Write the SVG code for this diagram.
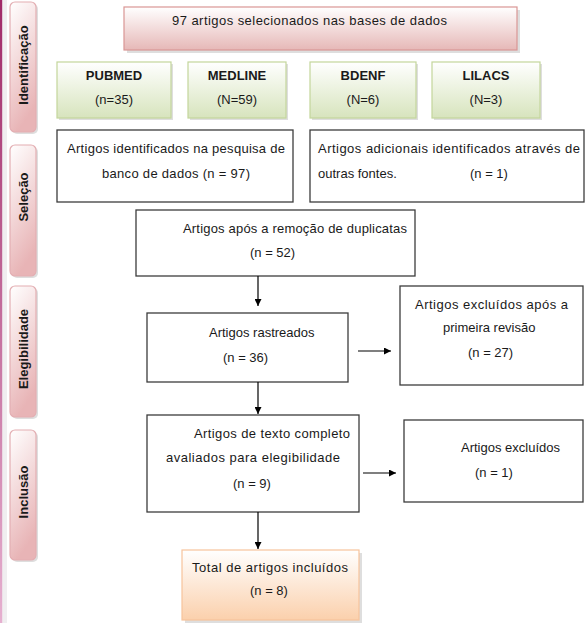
<svg xmlns="http://www.w3.org/2000/svg" width="585" height="623" viewBox="0 0 585 623">
<defs>
<linearGradient id="gRed" x1="0" y1="0" x2="0" y2="1"><stop offset="0" stop-color="#ffffff"/><stop offset="1" stop-color="#e6b8b7"/></linearGradient>
<linearGradient id="gGreen" x1="0" y1="0" x2="0" y2="1"><stop offset="0" stop-color="#ffffff"/><stop offset="1" stop-color="#d7e4bd"/></linearGradient>
<linearGradient id="gOrange" x1="0" y1="0" x2="0" y2="1"><stop offset="0" stop-color="#ffffff"/><stop offset="1" stop-color="#fbd0ac"/></linearGradient>
<linearGradient id="gSide" x1="0" y1="0" x2="0.3" y2="1"><stop offset="0" stop-color="#ffffff"/><stop offset="1" stop-color="#e8b4b6"/></linearGradient>
<linearGradient id="gEdge" x1="0" y1="0" x2="0" y2="1"><stop offset="0" stop-color="#a02a68"/><stop offset="1" stop-color="#e6b0d0"/></linearGradient>
<marker id="ah" viewBox="0 0 10 10" refX="10" refY="5" markerWidth="7" markerHeight="7" markerUnits="userSpaceOnUse" orient="auto"><path d="M0,0 L10,5 L0,10 z" fill="#000"/></marker>
</defs>
<style>
text{font-family:"Liberation Sans",Arial,sans-serif;font-size:13px;fill:#1a1a1a}
.b{font-weight:bold}
.c{text-anchor:middle}
.box{fill:#fff;stroke:#3c3c3c;stroke-width:1.3}
.sh{fill:#c8c8c8;opacity:0.6}
.side{fill:url(#gSide);stroke:#e3aeb2;stroke-width:1.2}
.grn{fill:url(#gGreen);stroke:#c3d69b;stroke-width:1.2}
.red{fill:url(#gRed);stroke:#d99694;stroke-width:1.2}
.org{fill:url(#gOrange);stroke:#f7c49c;stroke-width:1.2}
.ln{stroke:#000;stroke-width:1.2;fill:none;marker-end:url(#ah)}
</style>
<rect x="0" y="0" width="585" height="623" fill="#ffffff"/>
<rect x="2" y="0" width="5" height="623" fill="#f0eef0"/>
<rect x="0" y="0" width="2.2" height="623" fill="url(#gEdge)"/>

<g id="lbl-identificacao">
<rect x="12" y="4" width="26" height="130" rx="5" class="sh"/>
<rect x="10" y="2" width="26" height="130" rx="5" class="side"/>
<text class="b c" transform="translate(28,65) rotate(-90)">Identificação</text>
</g>
<g id="lbl-selecao">
<rect x="12" y="147" width="26" height="131" rx="5" class="sh"/>
<rect x="10" y="145" width="26" height="131" rx="5" class="side"/>
<text class="b c" transform="translate(28,197) rotate(-90)">Seleção</text>
</g>
<g id="lbl-elegibilidade">
<rect x="12" y="288" width="26" height="131" rx="5" class="sh"/>
<rect x="10" y="286" width="26" height="131" rx="5" class="side"/>
<text class="b c" transform="translate(28,349) rotate(-90)">Elegibilidade</text>
</g>
<g id="lbl-inclusao">
<rect x="12" y="432" width="26" height="130" rx="5" class="sh"/>
<rect x="10" y="430" width="26" height="130" rx="5" class="side"/>
<text class="b c" transform="translate(28,492) rotate(-90)">Inclusão</text>
</g>

<g id="n-total97">
<rect x="127" y="10" width="393" height="43" class="sh"/>
<rect x="124" y="7" width="393" height="43" class="red"/>
<text x="172" y="25" textLength="275" lengthAdjust="spacing">97 artigos selecionados nas bases de dados</text>
</g>
<g id="n-pubmed">
<rect x="59" y="64" width="114" height="56" class="sh"/>
<rect x="57" y="62" width="114" height="56" class="grn"/>
<text x="114" y="80" class="b c">PUBMED</text>
<text x="114" y="104" class="c">(n=35)</text>
</g>
<g id="n-medline">
<rect x="190" y="64" width="98" height="56" class="sh"/>
<rect x="188" y="62" width="98" height="56" class="grn"/>
<text x="237" y="80" class="b c">MEDLINE</text>
<text x="237" y="104" class="c">(N=59)</text>
</g>
<g id="n-bdenf">
<rect x="312" y="64" width="106" height="56" class="sh"/>
<rect x="310" y="62" width="106" height="56" class="grn"/>
<text x="363" y="80" class="b c">BDENF</text>
<text x="363" y="104" class="c">(N=6)</text>
</g>
<g id="n-lilacs">
<rect x="434" y="64" width="108" height="56" class="sh"/>
<rect x="432" y="62" width="108" height="56" class="grn"/>
<text x="486" y="80" class="b c">LILACS</text>
<text x="486" y="104" class="c">(N=3)</text>
</g>

<g id="n-identificados">
<rect x="57" y="130" width="236" height="72" class="box"/>
<text x="67" y="153" textLength="218" lengthAdjust="spacing">Artigos identificados na pesquisa de</text>
<text x="102" y="178" textLength="148" lengthAdjust="spacing">banco de dados (n = 97)</text>
</g>
<g id="n-adicionais">
<rect x="310" y="130" width="274" height="72" class="box"/>
<text x="318" y="153" textLength="262" lengthAdjust="spacing">Artigos adicionais identificados através de</text>
<text x="318" y="178">outras fontes.</text>
<text x="470" y="178">(n = 1)</text>
</g>
<g id="n-duplicatas">
<rect x="136" y="210" width="279" height="66" class="box"/>
<text x="183" y="233" textLength="224" lengthAdjust="spacing">Artigos após a remoção de duplicatas</text>
<text x="250" y="257">(n = 52)</text>
</g>
<g id="n-rastreados">
<rect x="147" y="313" width="201" height="69" class="box"/>
<text x="209" y="337">Artigos rastreados</text>
<text x="223" y="362">(n = 36)</text>
</g>
<g id="n-excl1">
<rect x="400" y="286" width="183" height="99" class="box"/>
<text x="415" y="309" textLength="153" lengthAdjust="spacing">Artigos excluídos após a</text>
<text x="443" y="332">primeira revisão</text>
<text x="468" y="357">(n = 27)</text>
</g>
<g id="n-completo">
<rect x="147" y="415" width="212" height="97" class="box"/>
<text x="194" y="438" textLength="156" lengthAdjust="spacing">Artigos de texto completo</text>
<text x="166" y="462" textLength="174" lengthAdjust="spacing">avaliados para elegibilidade</text>
<text x="233" y="488">(n = 9)</text>
</g>
<g id="n-excl2">
<rect x="404" y="420" width="179" height="82" class="box"/>
<text x="461" y="452">Artigos excluídos</text>
<text x="475" y="477">(n = 1)</text>
</g>
<g id="n-incluidos">
<rect x="185" y="553" width="177" height="70" class="sh"/>
<rect x="182" y="550" width="177" height="70" class="org"/>
<text x="192" y="572" textLength="156" lengthAdjust="spacing">Total de artigos incluídos</text>
<text x="250" y="595">(n = 8)</text>
</g>

<g id="connectors">
<line x1="258" y1="276" x2="258" y2="306" class="ln"/>
<line x1="258" y1="382" x2="258" y2="414" class="ln"/>
<line x1="258" y1="512" x2="258" y2="549" class="ln"/>
<line x1="358" y1="351" x2="391" y2="351" class="ln"/>
<line x1="363" y1="473" x2="396" y2="473" class="ln"/>
</g>
</svg>
